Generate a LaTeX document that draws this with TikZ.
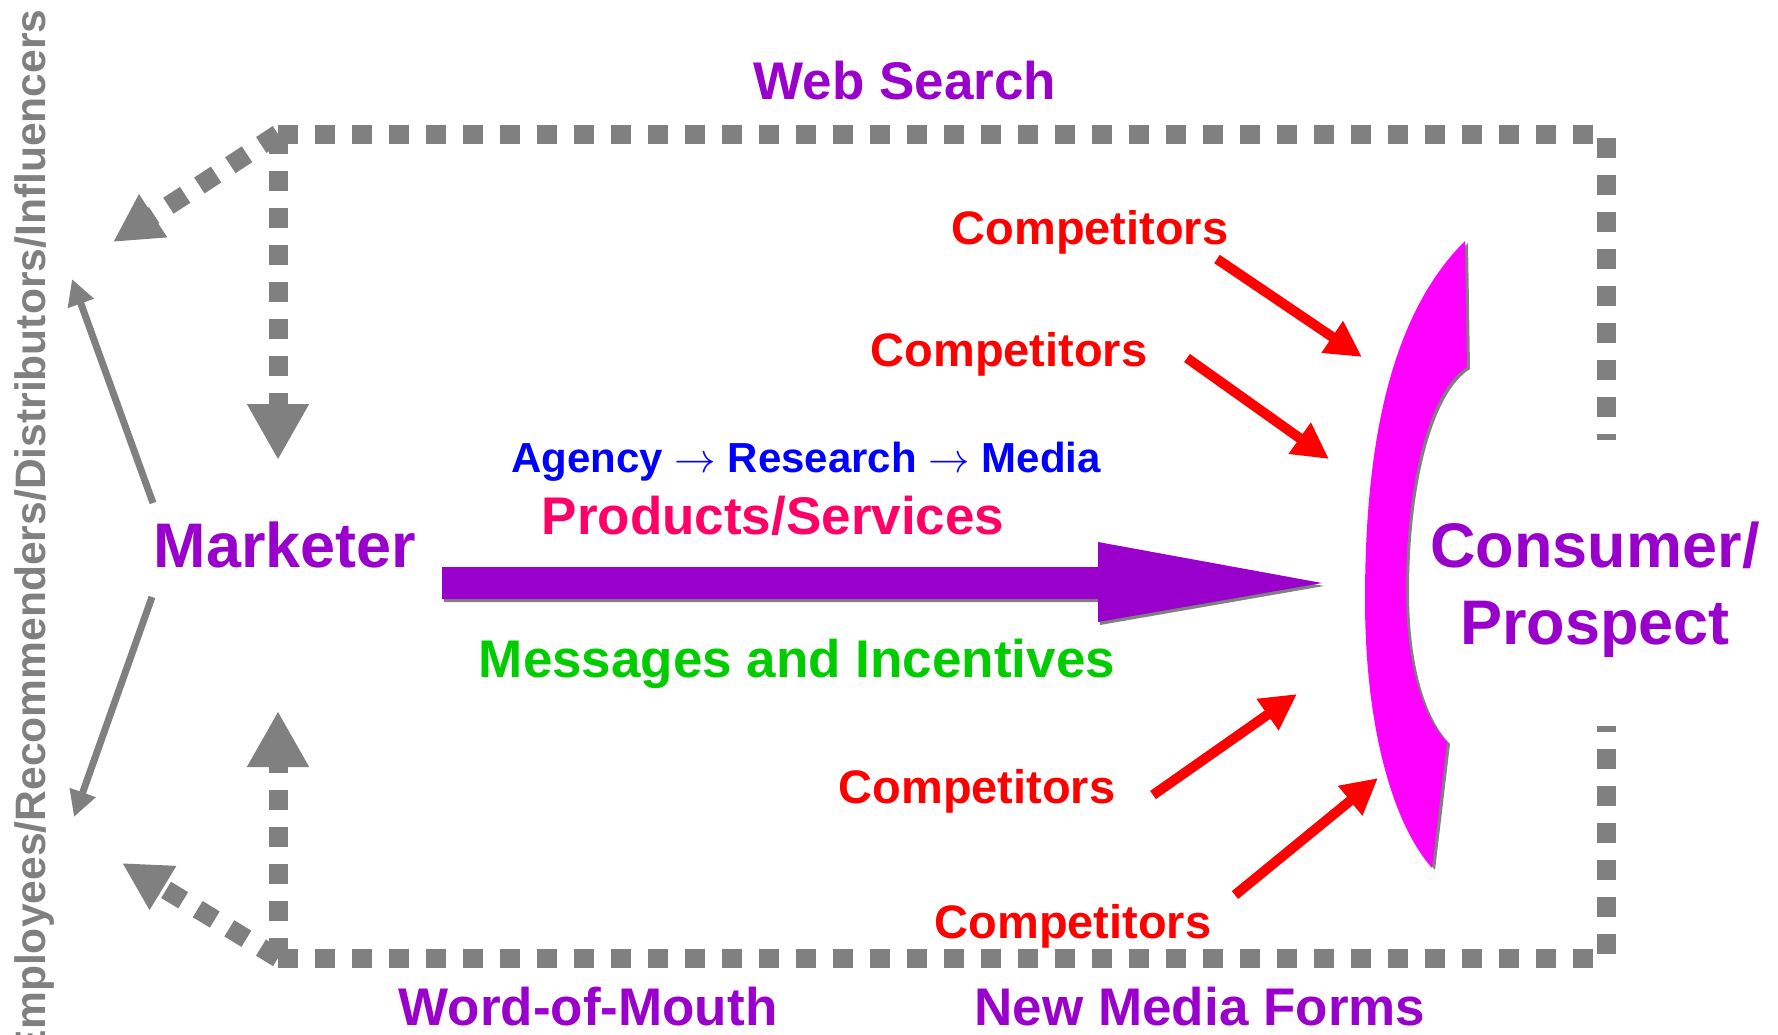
\documentclass[tikz,border=0pt]{standalone}
\usepackage{fontspec}
\setmainfont{Liberation Sans}
\usetikzlibrary{arrows.meta}
\definecolor{mktpurple}{RGB}{153,0,204}
\definecolor{prodpink}{RGB}{255,0,102}
\definecolor{msggreen}{RGB}{0,204,0}
\definecolor{dotgrey}{RGB}{128,128,128}
\definecolor{crescent}{RGB}{255,0,255}

\begin{document}
\begin{tikzpicture}[x=0.5pt,y=0.5pt,yscale=-1,xscale=1,
  dotline/.style={draw=dotgrey,line width=9.5pt,dash pattern=on 10pt off 8.5pt},
  dottip/.style={-{Triangle[length=28pt,width=29pt]}},
  dotdiag/.style={-{Triangle[length=24pt,width=24pt]}},
  greyline/.style={draw=dotgrey,line width=3.5pt,-{Triangle[length=13pt,width=13pt]}},
  compline/.style={draw=red,line width=5pt,-{Triangle[length=18pt,width=18pt]}},
  bigtext/.style={inner sep=0pt,font=\fontsize{31.5}{38.5}\selectfont\bfseries},
  midtext/.style={inner sep=0pt,font=\fontsize{26.5}{32}\selectfont\bfseries},
  comptext/.style={inner sep=0pt,text=red,font=\fontsize{23.5}{28}\selectfont\bfseries},
  smalltext/.style={inner sep=0pt,font=\fontsize{21}{25}\selectfont\bfseries}]
\useasboundingbox (0,0) rectangle (1778,1034);

%Coordinates
\coordinate (tl) at (278,134);
\coordinate (tr) at (1606,134);
\coordinate (trend) at (1606,440);
\coordinate (bl) at (278,958);
\coordinate (br) at (1606,958);
\coordinate (brend) at (1606,726);
\coordinate (downtip) at (278,460);
\coordinate (uptip) at (278,711);
\coordinate (toptip) at (113,242);
\coordinate (bottip) at (122,863);
\coordinate (mkttop) at (153,503);
\coordinate (mktbot) at (152,597);
\coordinate (infltop) at (72,279);
\coordinate (inflbot) at (74,817);

%Shape: Dotted Frame
\draw [dotline] (tl) -- (tr) -- (trend);
\draw [dotline] (bl) -- (br) -- (brend);
%Straight Lines (dotted arrows)
\draw [dotline,dottip] (tl) -- (downtip);
\draw [dotline,dottip] (bl) -- (uptip);
\draw [dotline,dotdiag] (tl) -- (toptip);
\draw [dotline,dotdiag] (bl) -- (bottip);
%Straight Lines (influencer arrows)
\draw [greyline] (mkttop) -- (infltop);
\draw [greyline] (mktbot) -- (inflbot);

%Shape: Big Arrow (shadow)
\fill [dotgrey,shift={(2,3)}] (442,567) -- (1098,567) -- (1098,542) -- (1322,583) -- (1098,622) -- (1098,599) -- (442,599) -- cycle;
%Shape: Big Arrow
\fill [mktpurple] (442,567) -- (1098,567) -- (1098,542) -- (1322,583) -- (1098,622) -- (1098,599) -- (442,599) -- cycle;

%Shape: Crescent (shadow)
\fill [dotgrey,shift={(3,2)}] (1465,241) -- (1467,367) .. controls (1430,390) and (1406,480) .. (1406,590) .. controls (1406,670) and (1425,720) .. (1447,742) -- (1432,868) .. controls (1390,820) and (1365,720) .. (1365,600) .. controls (1365,460) and (1385,320) .. (1465,241) -- cycle;
%Shape: Crescent
\fill [crescent] (1465,241) -- (1467,367) .. controls (1430,390) and (1406,480) .. (1406,590) .. controls (1406,670) and (1425,720) .. (1447,742) -- (1432,868) .. controls (1390,820) and (1365,720) .. (1365,600) .. controls (1365,460) and (1385,320) .. (1465,241) -- cycle;

% Text Node
\node [midtext,text=mktpurple,anchor=base] (websearch) at (905,99) {Web Search};
% Text Node
\node [rotate=90,anchor=base east,inner sep=0pt,text=dotgrey,font=\fontsize{21.3}{25}\selectfont\bfseries] (influencers) at (46,9) {Employees/Recommenders/Distributors/Influencers};
% Text Node
\node [bigtext,text=mktpurple,anchor=base] (marketer) at (285,567) {Marketer};
% Text Node
\node [smalltext,text=blue,anchor=base] (agency) at (806,472) {Agency $\rightarrow$ Research $\rightarrow$ Media};
% Text Node
\node [midtext,text=prodpink,anchor=base] (products) at (773,534) {Products/Services};
% Text Node
\node [midtext,text=msggreen,anchor=base] (messages) at (797,677) {Messages and Incentives};
% Text Node
\node [bigtext,text=mktpurple,anchor=base,align=center] (consumer) at (1595,644) {Consumer/\\Prospect};
% Text Node
\node [midtext,text=mktpurple,anchor=base] (wom) at (588,1025) {Word-of-Mouth};
% Text Node
\node [midtext,text=mktpurple,anchor=base] (newmedia) at (1200,1025) {New Media Forms};

% Text Node
\node [comptext,anchor=base] (compa) at (1090,244) {Competitors};
% Text Node
\node [comptext,anchor=base] (compb) at (1009,366) {Competitors};
% Text Node
\node [comptext,anchor=base] (compc) at (977,803) {Competitors};
% Text Node
\node [comptext,anchor=base] (compd) at (1073,938) {Competitors};

%Straight Lines (competitor arrows)
\coordinate (compatail) at (1217,259);
\coordinate (compbtail) at (1187,358);
\coordinate (compctail) at (1153,795);
\coordinate (compdtail) at (1235,895);
\draw [compline] (compatail) -- (1362,357);
\draw [compline] (compbtail) -- (1329,459);
\draw [compline] (compctail) -- (1297,694);
\draw [compline] (compdtail) -- (1378,778);

\end{tikzpicture}
\end{document}
